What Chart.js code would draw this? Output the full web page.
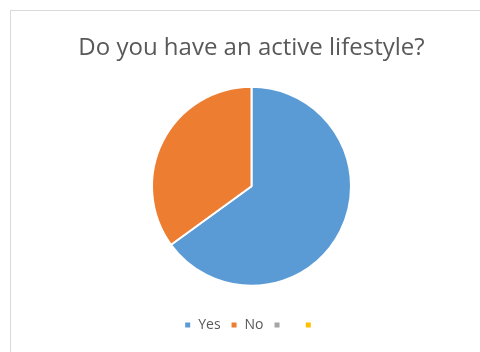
<!DOCTYPE html>
<html>
<head>
<meta charset="utf-8">
<script src="https://cdn.jsdelivr.net/npm/chart.js@4"></script>
<style>
    body { margin: 0; background: #ffffff; }
    #moldura { position: absolute; left: 10px; top: 10px; width: 480px; height: 352px; border: 1px solid #d9d9d9; }
    #grafico { position: absolute; left: 0; top: 0; }
</style>
</head>
<body>
<div id="moldura"></div>
<canvas id="grafico" width="480" height="352"></canvas>
<script>
const titulo = "Do you have an active lifestyle?";
const categorias = ["Yes", "No", "  ", ""];
const respostas = [65, 35, 0, 0];
const cores = ["#5B9BD5", "#ED7D31", "#A5A5A5", "#FFC000"];

const ctx = document.getElementById("grafico");

new Chart(ctx, {
    type: 'pie',
    data: {
        labels: categorias,
        datasets: [{
            data: respostas,
            backgroundColor: cores,
            borderColor: "#ffffff",
            borderWidth: 2
        }]
    },
    options: {
        responsive: false,
        animation: false,
        layout: {
            padding: { left: 23, right: 0, top: 0, bottom: 10 }
        },
        plugins: {
            title: {
                display: true,
                text: titulo,
                color: "#595959",
                font: { family: "Open Sans", size: 24, weight: "normal" },
                padding: { top: 34, bottom: 23 }
            },
            legend: {
                position: "bottom",
                title: {
                    display: true,
                    text: " ",
                    font: { size: 1 },
                    padding: { top: 20, bottom: 0 }
                },
                labels: {
                    color: "#595959",
                    font: { family: "Open Sans", size: 14 },
                    boxWidth: 7,
                    boxHeight: 7,
                    padding: 10
                }
            },
            tooltip: { enabled: false }
        }
    }
});
</script>
</body>
</html>
